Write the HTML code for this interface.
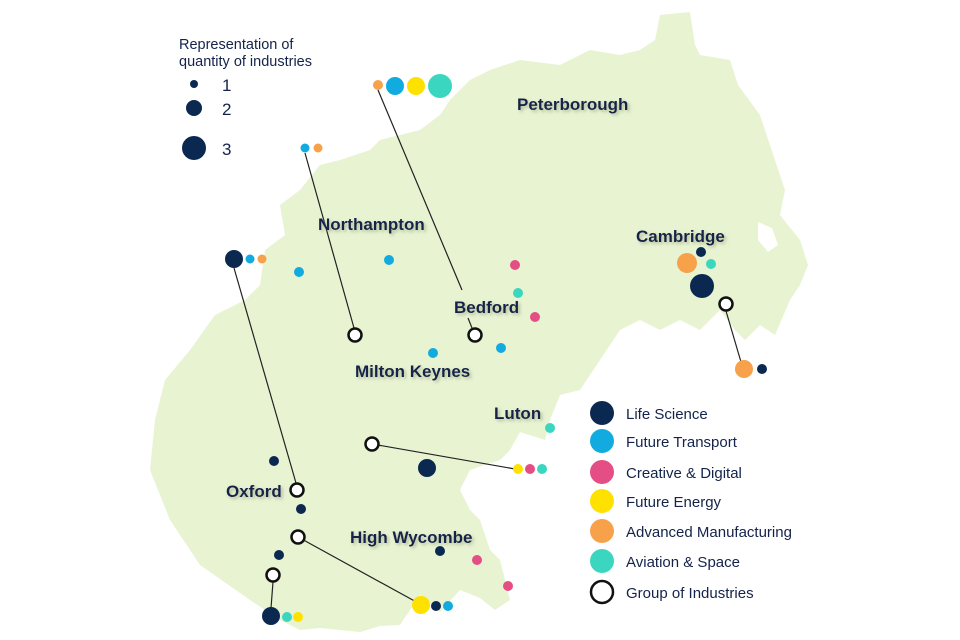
<!DOCTYPE html>
<html><head><meta charset="utf-8"><style>
html,body{margin:0;padding:0;background:#fff}
svg{display:block}
.lb{font-family:"Liberation Sans",sans-serif;font-weight:bold;font-size:17px;fill:#13234a}
.lg{font-family:"Liberation Sans",sans-serif;font-size:15px;fill:#13234a}
</style></head><body>
<svg width="960" height="640" viewBox="0 0 960 640" xmlns="http://www.w3.org/2000/svg">
<defs><filter id="sh" x="-10%" y="-30%" width="130%" height="180%"><feDropShadow dx="2" dy="2" stdDeviation="1.5" flood-color="#8a9a70" flood-opacity="0.6"/></filter></defs>
<path fill="#e8f3d2" d="M660,15 L690,12 L695,45 L700,55 L730,60 L738,85 L760,115 L775,160 L785,190 L780,215 L800,240 L808,265 L800,285 L790,300 L775,335 L760,325 L745,340 L735,330 L720,310 L700,330 L680,320 L660,330 L640,320 L620,330 L600,360 L580,390 L560,395 L550,420 L545,440 L520,432 L510,450 L500,460 L470,470 L460,490 L470,510 L480,520 L490,550 L500,560 L510,600 L495,610 L480,598 L460,590 L440,612 L420,595 L400,625 L380,626 L360,632 L340,630 L320,628 L300,630 L280,620 L250,600 L200,565 L170,520 L150,470 L155,420 L165,380 L190,350 L215,315 L245,300 L260,285 L265,250 L285,235 L280,205 L300,190 L320,165 L340,160 L370,150 L380,140 L400,135 L420,130 L440,115 L450,100 L470,80 L490,70 L520,60 L560,65 L590,50 L620,55 L640,50 L655,40 Z"/>
<path fill="#fff" d="M758,222 L772,228 L778,245 L768,252 L758,240 Z"/>
<g stroke="#222" stroke-width="1.2" fill="none">
<polyline points="378,90 462,290"/>
<line x1="468" y1="318" x2="472" y2="328"/>
<line x1="305" y1="153" x2="354" y2="328"/>
<line x1="234" y1="268" x2="296" y2="483"/>
<line x1="726" y1="311" x2="741" y2="362"/>
<line x1="372" y1="444" x2="515" y2="469"/>
<line x1="298" y1="537" x2="420" y2="604"/>
<line x1="273" y1="582" x2="271" y2="608"/>
</g>
<g stroke="#111" stroke-width="2.5" fill="#fff">
<circle cx="355" cy="335" r="6.5"/><circle cx="475" cy="335" r="6.5"/><circle cx="297" cy="490" r="6.5"/>
<circle cx="726" cy="304" r="6.5"/><circle cx="372" cy="444" r="6.5"/><circle cx="298" cy="537" r="6.5"/><circle cx="273" cy="575" r="6.5"/>
</g>
<g>
<circle cx="378" cy="85" r="5" fill="#f7a24b"/><circle cx="395" cy="86" r="9" fill="#12abe0"/><circle cx="416" cy="86" r="9" fill="#ffe100"/><circle cx="440" cy="86" r="12" fill="#3bd6c0"/>
<circle cx="305" cy="148" r="4.5" fill="#12abe0"/><circle cx="318" cy="148" r="4.5" fill="#f7a24b"/>
<circle cx="234" cy="259" r="9" fill="#0b2850"/><circle cx="250" cy="259" r="4.5" fill="#12abe0"/><circle cx="262" cy="259" r="4.5" fill="#f7a24b"/>
<circle cx="299" cy="272" r="5" fill="#12abe0"/><circle cx="389" cy="260" r="5" fill="#12abe0"/>
<circle cx="515" cy="265" r="5" fill="#e54d85"/><circle cx="518" cy="293" r="5" fill="#3bd6c0"/><circle cx="535" cy="317" r="5" fill="#e54d85"/>
<circle cx="433" cy="353" r="5" fill="#12abe0"/><circle cx="501" cy="348" r="5" fill="#12abe0"/>
<circle cx="687" cy="263" r="10" fill="#f7a24b"/><circle cx="701" cy="252" r="5" fill="#0b2850"/><circle cx="711" cy="264" r="5" fill="#3bd6c0"/><circle cx="702" cy="286" r="12" fill="#0b2850"/>
<circle cx="744" cy="369" r="9" fill="#f7a24b"/><circle cx="762" cy="369" r="5" fill="#0b2850"/>
<circle cx="550" cy="428" r="5" fill="#3bd6c0"/>
<circle cx="518" cy="469" r="5" fill="#ffe100"/><circle cx="530" cy="469" r="5" fill="#e54d85"/><circle cx="542" cy="469" r="5" fill="#3bd6c0"/>
<circle cx="427" cy="468" r="9" fill="#0b2850"/><circle cx="274" cy="461" r="5" fill="#0b2850"/><circle cx="301" cy="509" r="5" fill="#0b2850"/>
<circle cx="421" cy="605" r="9" fill="#ffe100"/><circle cx="436" cy="606" r="5" fill="#0b2850"/><circle cx="448" cy="606" r="5" fill="#12abe0"/>
<circle cx="440" cy="551" r="5" fill="#0b2850"/><circle cx="477" cy="560" r="5" fill="#e54d85"/><circle cx="508" cy="586" r="5" fill="#e54d85"/>
<circle cx="279" cy="555" r="5" fill="#0b2850"/>
<circle cx="271" cy="616" r="9" fill="#0b2850"/><circle cx="287" cy="617" r="5" fill="#3bd6c0"/><circle cx="298" cy="617" r="5" fill="#ffe100"/>
</g>
<g filter="url(#sh)">
<text x="517" y="110" class="lb">Peterborough</text>
<text x="318" y="230" class="lb">Northampton</text>
<text x="636" y="242" class="lb">Cambridge</text>
<text x="454" y="313" class="lb">Bedford</text>
<text x="355" y="377" class="lb">Milton Keynes</text>
<text x="494" y="419" class="lb">Luton</text>
<text x="226" y="497" class="lb">Oxford</text>
<text x="350" y="543" class="lb">High Wycombe</text>
</g>
<text x="179" y="49" class="lg" style="font-size:14.5px">Representation of</text>
<text x="179" y="66" class="lg" style="font-size:14.5px">quantity of industries</text>
<circle cx="194" cy="84" r="4" fill="#0b2850"/><text x="222" y="91" class="lg" style="font-size:17px">1</text>
<circle cx="194" cy="108" r="8" fill="#0b2850"/><text x="222" y="115" class="lg" style="font-size:17px">2</text>
<circle cx="194" cy="148" r="12" fill="#0b2850"/><text x="222" y="155" class="lg" style="font-size:17px">3</text>
<circle cx="602" cy="413" r="12" fill="#0b2850"/><text x="626" y="419" class="lg">Life Science</text>
<circle cx="602" cy="441" r="12" fill="#12abe0"/><text x="626" y="447" class="lg">Future Transport</text>
<circle cx="602" cy="472" r="12" fill="#e54d85"/><text x="626" y="478" class="lg">Creative &amp; Digital</text>
<circle cx="602" cy="501" r="12" fill="#ffe100"/><text x="626" y="507" class="lg">Future Energy</text>
<circle cx="602" cy="531" r="12" fill="#f7a24b"/><text x="626" y="537" class="lg">Advanced Manufacturing</text>
<circle cx="602" cy="561" r="12" fill="#3bd6c0"/><text x="626" y="567" class="lg">Aviation &amp; Space</text>
<circle cx="602" cy="592" r="11" fill="#fff" stroke="#111" stroke-width="2.5"/><text x="626" y="598" class="lg">Group of Industries</text>
</svg>
</body></html>
